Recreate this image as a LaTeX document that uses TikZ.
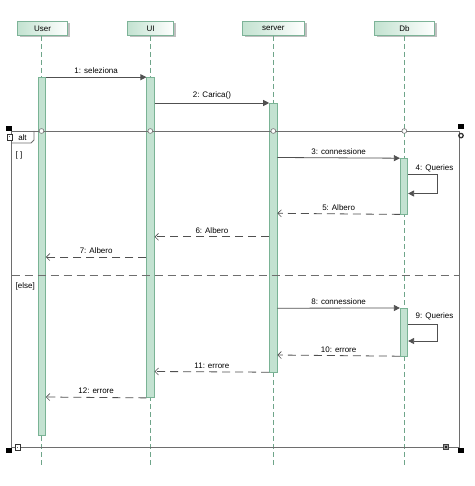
\documentclass[tikz,border=0pt]{standalone}
\usepackage{fontspec}
\setmainfont{Liberation Sans}
\usetikzlibrary{arrows.meta}
\definecolor{hdrfill}{HTML}{C2E2D0}
\definecolor{hdrline}{HTML}{7DB398}
\definecolor{barfill}{HTML}{C3E2D1}
\definecolor{barline}{HTML}{7AB395}
\definecolor{lifeline}{HTML}{6FA58A}
\definecolor{msgline}{HTML}{505050}
\definecolor{frameline}{HTML}{6E6E6E}
\tikzset{
  every node/.style={font=\fontsize{8}{9.6}\selectfont, inner sep=0pt},
  header/.style={draw=hdrline, line width=0.8pt, left color=hdrfill, right color=white,
    minimum height=14.5pt, anchor=north},
  shadowbox/.style={fill=black!25, draw=none},
  lline/.style={draw=lifeline, line width=0.7pt, dash pattern=on 5pt off 3pt},
  bar/.style={draw=barline, fill=barfill, line width=0.7pt, minimum width=7.5pt, anchor=north},
  msg/.style={draw=msgline, line width=0.8pt, -{Triangle[length=6pt,width=6pt]}},
  ret/.style={draw=msgline, line width=0.8pt, dash pattern=on 8pt off 5pt,
    -{Straight Barb[length=3.5pt,width=7pt,line width=0.6pt]}},
  lbl/.style={above=3pt, text=black},
  frm/.style={draw=frameline, line width=0.9pt},
  handle/.style={fill=black, draw=none},
}
\begin{document}
\begin{tikzpicture}[x=1pt,y=-1pt]
\useasboundingbox (0,0) rectangle (474,486);

% lifeline heads with their shadows
\fill[shadowbox] (19.5,23) rectangle (70,37.5);
\fill[shadowbox] (129.5,23) rectangle (176,37.5);
\fill[shadowbox] (244.5,23) rectangle (306.5,37.5);
\fill[shadowbox] (376.5,23) rectangle (437,37.5);
\node[header, minimum width=50.5pt] (user) at (42.5,20.7) {User};
\node[header, minimum width=46.5pt] (ui) at (150.5,20.7) {UI};
\node[header, minimum width=62pt] (server) at (273.3,20.7) {server};
\node[header, minimum width=60.5pt] (db) at (404.5,20.7) {Db};

% lifelines
\coordinate (userend) at (41.5,467);
\coordinate (uiend) at (150.3,467);
\coordinate (serverend) at (273.3,467);
\coordinate (dbend) at (404.3,467);
\draw[lline] (user.south -| userend) -- (userend);
\draw[lline] (ui.south -| uiend) -- (uiend);
\draw[lline] (server.south -| serverend) -- (serverend);
\draw[lline] (db.south -| dbend) -- (dbend);

% activation bars
\node[bar, minimum height=357.5pt] (ub) at (41.8,77.2) {};
\node[bar, minimum height=320pt] (uib) at (150.5,77.2) {};
\node[bar, minimum height=268.5pt] (sb) at (273.3,103) {};
\node[bar, minimum height=55.5pt] (db1) at (404,158.2) {};
\node[bar, minimum height=47.5pt] (db2) at (404,308) {};

% combined fragment
\coordinate (ftl) at (11.5,131);
\coordinate (fbr) at (459,447);
\draw[frm] (ftl) rectangle (fbr);
\draw[frm] (11.5,143) -- (31,143) -- (34,140) -- (34,131);
\node at (22.5,137.5) {alt};
\node[anchor=west] at (15.5,155) {[ ]};
\draw[draw=frameline, line width=0.9pt, dash pattern=on 8pt off 5pt] (11.5,275) -- (459,275);
\node[anchor=west] at (15.5,286) {[else]};
\foreach \lx in {41.5,150.3,273.3,404.3}
  \draw[draw=frameline, fill=white, line width=0.6pt] (\lx,131) circle (2.4pt);

% selection handles and fragment icons
\fill[handle] (6,126) rectangle (11.5,131);
\draw[draw=black!80, fill=white, line width=0.6pt] (7,134.5) rectangle (12.3,140);
\fill[black!60] (8.5,136.5) rectangle (9.5,137.5);
\fill[handle] (458,124.5) rectangle (463.5,129.5);
\draw[draw=black!80, line width=1.3pt] (461,135.6) circle (2.2pt);
\fill[handle] (6,447.5) rectangle (11.7,453.3);
\draw[draw=black!80, fill=white, line width=0.6pt] (15.3,444.7) rectangle (20.7,450.3);
\fill[black!60] (17,446.8) rectangle (18,447.8);
\draw[draw=black!75, fill=black!40, line width=0.6pt] (443.3,444.7) rectangle (448.7,449.7);
\fill[black!85] (445.3,446) rectangle (446.7,448.4);
\fill[handle] (458,447.5) rectangle (463.7,453.3);

% message levels
\coordinate (m3) at (0,157.5);
\coordinate (m4a) at (0,174.3);
\coordinate (m4b) at (0,193.5);
\coordinate (m5) at (0,213.3);
\coordinate (m6) at (0,236.8);
\coordinate (m7) at (0,257);
\coordinate (m8) at (0,308.2);
\coordinate (m9a) at (0,324);
\coordinate (m9b) at (0,341);
\coordinate (m10) at (0,355);
\coordinate (m11) at (0,371.5);
\coordinate (m12) at (0,397);
\coordinate (loopx) at (437.7,0);

% messages
\draw[msg] (ub.north east) -- node[lbl] {1: seleziona} (uib.north west);
\draw[msg] (uib.east |- sb.north) -- node[lbl] {2: Carica()} (sb.north west);
\draw[msg] (sb.east |- m3) -- node[lbl] {3: connessione} (db1.north west);
\draw[msg] (db1.east |- m4a) -- (loopx |- m4a) -- (loopx |- m4b) -- (db1.east |- m4b);
\node[anchor=west] at (415.5,168) {4: Queries};
\draw[ret] (db1.south west) -- node[lbl] {5: Albero} (sb.east |- m5);
\draw[ret] (sb.west |- m6) -- node[lbl] {6: Albero} (uib.east |- m6);
\draw[ret] (uib.west |- m7) -- node[lbl] {7: Albero} (ub.east |- m7);
\draw[msg] (sb.east |- m8) -- node[lbl] {8: connessione} (db2.north west);
\draw[msg] (db2.east |- m9a) -- (loopx |- m9a) -- (loopx |- m9b) -- (db2.east |- m9b);
\node[anchor=west] at (415.5,316) {9: Queries};
\draw[ret] (db2.south west) -- node[lbl] {10: errore} (sb.east |- m10);
\draw[ret] (sb.south west) -- node[lbl] {11: errore} (uib.east |- m11);
\draw[ret] (uib.south west) -- node[lbl] {12: errore} (ub.east |- m12);
\end{tikzpicture}
\end{document}
